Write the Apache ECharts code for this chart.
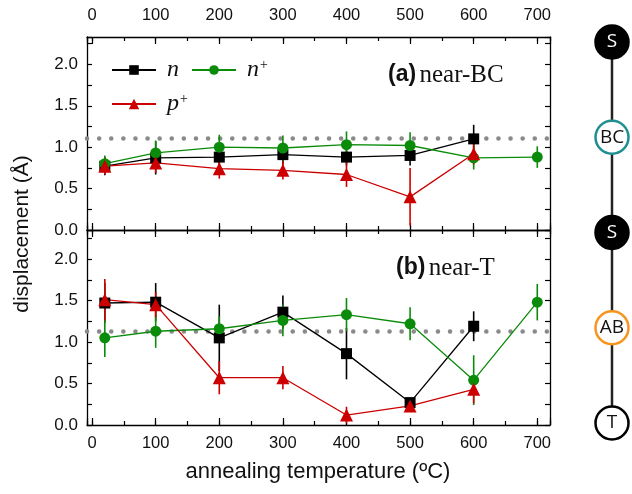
<!DOCTYPE html>
<html>
<head>
<meta charset="utf-8">
<script src="https://cdn.jsdelivr.net/npm/echarts@6/dist/echarts.min.js"></script>
<style>
  html, body { margin: 0; padding: 0; background: #fff; }
  #container { width: 632px; height: 494px; }
</style>
</head>
<body>
<div id="container"></div>
<script>
// annealing temperatures
let temps = [20, 100, 200, 300, 400, 500, 600];
let tempsPlus = [20, 100, 200, 300, 400, 500, 600, 700];

// (a) near-BC
let nA = [0.77, 0.87, 0.88, 0.91, 0.88, 0.90, 1.10];
let nAErr = [0.11, 0.20, 0.13, 0.12, 0.10, 0.12, 0.17];
let nPlusA = [0.80, 0.93, 1.00, 0.99, 1.03, 1.02, 0.87, 0.88];
let nPlusAErr = [0.10, 0.15, 0.15, 0.15, 0.16, 0.16, 0.14, 0.13];
let pPlusA = [0.77, 0.81, 0.74, 0.72, 0.67, 0.40, 0.92];
let pPlusAErr = [0.10, 0.12, 0.12, 0.11, 0.15, 0.35, 0.13];
let refA = 1.11;

// (b) near-T
let nB = [1.47, 1.48, 1.05, 1.36, 0.86, 0.27, 1.19];
let nBErr = [0.24, 0.23, 0.40, 0.20, 0.31, 0.05, 0.18];
let nPlusB = [1.05, 1.13, 1.16, 1.26, 1.33, 1.22, 0.54, 1.48];
let nPlusBErr = [0.23, 0.20, 0.15, 0.19, 0.20, 0.20, 0.30, 0.22];
let pPlusB = [1.51, 1.45, 0.57, 0.57, 0.12, 0.23, 0.43];
let pPlusBErr = [0.25, 0.15, 0.20, 0.14, 0.10, 0.05, 0.17];
let refB = 1.13;

// site diagram on the right
let sites = ['S', 'BC', 'S', 'AB', 'T'];
let siteFill = ['#000', '#fff', '#000', '#fff', '#fff'];
let siteRing = ['#000', '#1f8f8f', '#000', '#f7941d', '#000'];
let siteText = ['#fff', '#111', '#fff', '#111', '#111'];

let BLACK = '#000', GREEN = '#0a8c0a', RED = '#cc0000';
let sans = 'Liberation Sans';
let serif = 'Liberation Serif';

let dom = document.getElementById('container');
let myChart = echarts.init(dom);

let hundreds = function (v) {
    return Math.abs(v % 100) < 1e-6 ? String(v) : '';
};
let halves = function (v) {
    return Math.abs(v * 2 - Math.round(v * 2)) < 1e-6 ? v.toFixed(1) : '';
};

function xAxes(gridIndex, labelPos) {
    let list = [];
    ['bottom', 'top'].forEach(function (pos) {
        // major ticks every 100
        list.push({
            type: 'value', gridIndex: gridIndex, position: pos,
            min: -8, max: 720, splitNumber: 7,
            axisLine: {onZero: false, lineStyle: {color: '#000', width: 1.3}},
            axisTick: {inside: true, length: 7, lineStyle: {color: '#000', width: 1.2}},
            axisLabel: {
                show: pos === labelPos, formatter: hundreds, margin: pos === 'top' ? 13 : 10,
                color: '#111', fontFamily: sans, fontSize: 16.5
            },
            splitLine: {show: false}
        });
        // minor ticks every 50
        list.push({
            type: 'value', gridIndex: gridIndex, position: pos,
            min: -8, max: 720, splitNumber: 14,
            axisLine: {show: false, onZero: false},
            axisTick: {inside: true, length: 4, lineStyle: {color: '#000', width: 1.2}},
            axisLabel: {show: false},
            splitLine: {show: false}
        });
    });
    return list;
}

function yAxes(gridIndex, max) {
    return ['left', 'right'].map(function (pos) {
        return {
            type: 'value', gridIndex: gridIndex, position: pos,
            min: 0, max: max, interval: 0.25,
            axisLine: {onZero: false, lineStyle: {color: '#000', width: 1.3}},
            axisTick: {inside: true, length: 5, lineStyle: {color: '#000', width: 1.2}},
            axisLabel: {
                show: pos === 'left', formatter: halves, margin: 9,
                color: '#111', fontFamily: sans, fontSize: 17
            },
            splitLine: {show: false}
        };
    });
}

function lineSeries(name, xs, ys, color, symbol, size, xi, yi, ref) {
    let s = {
        name: name, type: 'line', xAxisIndex: xi, yAxisIndex: yi,
        data: xs.map(function (x, i) { return [x, ys[i]]; }),
        symbol: symbol, symbolSize: size, showAllSymbol: true,
        itemStyle: {color: color},
        lineStyle: {color: color, width: 1.3},
        z: 3
    };
    if (ref !== undefined) {
        s.markLine = {
            silent: true, symbol: 'none', label: {show: false},
            lineStyle: {color: '#8a8a8a', width: 4.5, type: [0.1, 12], cap: 'round'},
            data: [{yAxis: ref}],
            z: 1
        };
    }
    return s;
}

function errorSeries(name, xs, ys, errs, color, xi, yi) {
    return {
        name: name, type: 'custom', xAxisIndex: xi, yAxisIndex: yi,
        silent: true, z: 2,
        data: xs.map(function (x, i) { return [x, ys[i] - errs[i], ys[i] + errs[i]]; }),
        encode: {x: 0, y: [1, 2]},
        renderItem: function (params, api) {
            let lo = api.coord([api.value(0), api.value(1)]);
            let hi = api.coord([api.value(0), api.value(2)]);
            return {
                type: 'line',
                shape: {x1: lo[0], y1: lo[1], x2: hi[0], y2: hi[1]},
                style: {stroke: color, lineWidth: 1.6}
            };
        }
    };
}

let legendText = {
    fontFamily: serif, fontStyle: 'italic', fontSize: 24, color: '#111',
    padding: [0, 0, 0, 6],
    rich: {
        i: {fontFamily: serif, fontStyle: 'italic', fontSize: 24, color: '#111'},
        s: {fontFamily: serif, fontSize: 14, color: '#111', verticalAlign: 'top'}
    }
};
let legendFmt = function (name) {
    return name.slice(-1) === '+'
        ? '{i|' + name.slice(0, -1) + '}{s|+}'
        : '{i|' + name + '}';
};

let panelRich = {
    b: {fontFamily: sans, fontWeight: 'bold', fontSize: 23, fill: '#111'},
    s: {fontFamily: serif, fontSize: 25, fill: '#111'}
};

option = {
    animation: false,
    backgroundColor: '#fff',
    grid: [
        {left: 87, right: 82, top: 37, bottom: 264},
        {left: 87, right: 82, top: 230, bottom: 69},
        {left: 595, width: 34, top: 42, height: 381}
    ],
    xAxis: xAxes(0, 'top').concat(xAxes(1, 'bottom')).concat([
        {type: 'value', gridIndex: 2, min: -1, max: 1, show: false}
    ]),
    yAxis: yAxes(0, 2.33).concat(yAxes(1, 2.35)).concat([
        {type: 'value', gridIndex: 2, min: 0, max: 4, inverse: true, show: false}
    ]),
    legend: [
        {
            data: ['n', 'n+'], left: 106, top: 53, itemWidth: 44, itemHeight: 12,
            itemGap: 12, textStyle: legendText, formatter: legendFmt, selectedMode: false
        },
        {
            data: ['p+'], left: 106, top: 87, itemWidth: 44, itemHeight: 13,
            textStyle: legendText, formatter: legendFmt, selectedMode: false
        }
    ],
    graphic: [
        {
            type: 'text', x: 388, y: 75,
            style: {
                text: '{b|(a)} {s|near-BC}', rich: panelRich, verticalAlign: 'middle'
            }
        },
        {
            type: 'text', x: 396, y: 268,
            style: {
                text: '{b|(b)} {s|near-T}', rich: panelRich, verticalAlign: 'middle'
            }
        },
        {
            type: 'text', x: 22, y: 234, rotation: Math.PI / 2,
            style: {
                text: 'displacement (Å)', fontFamily: sans, fontSize: 21, fill: '#111',
                align: 'center', verticalAlign: 'middle'
            }
        },
        {
            type: 'text', x: 318, y: 472,
            style: {
                text: 'annealing temperature (ºC)', fontFamily: sans, fontSize: 22, fill: '#111',
                align: 'center', verticalAlign: 'middle'
            }
        }
    ],
    series: [
        lineSeries('n', temps, nA, BLACK, 'rect', 11, 0, 0, refA),
        lineSeries('n+', tempsPlus, nPlusA, GREEN, 'circle', 11, 0, 0),
        lineSeries('p+', temps, pPlusA, RED, 'triangle', 13, 0, 0),
        lineSeries('n', temps, nB, BLACK, 'rect', 11, 4, 2, refB),
        lineSeries('n+', tempsPlus, nPlusB, GREEN, 'circle', 11, 4, 2),
        lineSeries('p+', temps, pPlusB, RED, 'triangle', 13, 4, 2),
        errorSeries('n', temps, nA, nAErr, BLACK, 0, 0),
        errorSeries('n+', tempsPlus, nPlusA, nPlusAErr, GREEN, 0, 0),
        errorSeries('p+', temps, pPlusA, pPlusAErr, RED, 0, 0),
        errorSeries('n', temps, nB, nBErr, BLACK, 4, 2),
        errorSeries('n+', tempsPlus, nPlusB, nPlusBErr, GREEN, 4, 2),
        errorSeries('p+', temps, pPlusB, pPlusBErr, RED, 4, 2),
        // site chain
        {
            type: 'line', xAxisIndex: 8, yAxisIndex: 4, silent: true,
            data: sites.map(function (s, i) { return [0, i]; }),
            symbol: 'none', lineStyle: {color: '#222', width: 2.5}, z: 1
        },
        {
            type: 'scatter', xAxisIndex: 8, yAxisIndex: 4, silent: true, clip: false,
            symbolSize: 33, z: 2,
            data: sites.map(function (s, i) {
                return {
                    value: [0, i], name: s,
                    itemStyle: {
                        color: siteFill[i], borderColor: siteRing[i],
                        borderWidth: 2.5, opacity: 1
                    },
                    label: {color: siteText[i]}
                };
            }),
            label: {
                show: true, position: 'inside', formatter: '{b}',
                fontFamily: 'Open Sans', fontSize: 19
            }
        }
    ]
};
myChart.setOption(option, true);
</script>
</body>
</html>
